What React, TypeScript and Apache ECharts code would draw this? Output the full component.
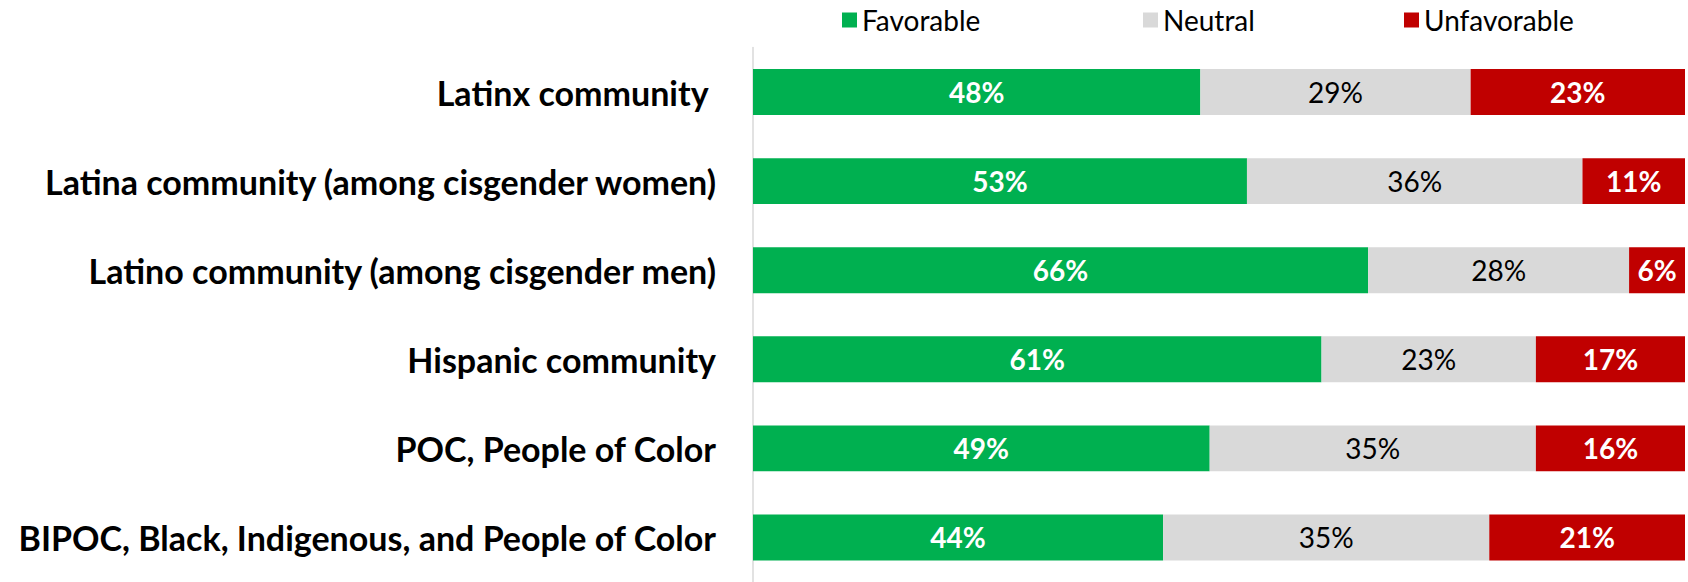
import React, { useEffect, useRef } from "react";
import * as echarts from "echarts";

const categories = [
  "Latinx community ",
  "Latina community (among cisgender women)",
  "Latino community (among cisgender men)",
  "Hispanic community",
  "POC, People of Color",
  "BIPOC, Black, Indigenous, and People of Color",
];
const favorable = [48, 53, 66, 61, 49, 44];
const neutral = [29, 36, 28, 23, 35, 35];
const unfavorable = [23, 11, 6, 17, 16, 21];

const FONT = "Lato, 'Open Sans', sans-serif";

export default function App() {
  const ref = useRef<HTMLDivElement>(null);
  useEffect(() => {
    if (!ref.current) return;
    const chart = echarts.init(ref.current, null, { renderer: "svg" });
    const labelFmt = (p: any) => `${p.value}%`;
    const mk = (name: string, data: number[], color: string, labelColor: string, bold: boolean) => ({
      name,
      type: "bar",
      stack: "total",
      data,
      barCategoryGap: "48.5%",
      clip: true,
      itemStyle: { color },
      label: {
        show: true,
        position: "inside",
        formatter: labelFmt,
        color: labelColor,
        fontFamily: FONT,
        fontSize: 28,
        fontWeight: bold ? "bold" : "normal",
      },
    });
    const legendCommon = {
      top: 1,
      itemWidth: 15,
      itemHeight: 15,
      itemGap: 6,
      icon: "rect",
      textStyle: { fontFamily: FONT, fontSize: 28, color: "#000", padding: [0, 0, 0, 0] },
    };
    chart.setOption({
      animation: false,
      backgroundColor: "#fff",
      legend: [
        { ...legendCommon, left: 837, data: ["Favorable"] },
        { ...legendCommon, left: 1138, data: ["Neutral"] },
        { ...legendCommon, left: 1399, data: ["Unfavorable"] },
      ],
      grid: { left: 753, right: 3, top: 47.5, height: 541 },
      xAxis: {
        type: "value",
        min: 0,
        max: 100,
        show: false,
      },
      yAxis: {
        type: "category",
        inverse: true,
        data: categories,
        axisLine: { show: true, lineStyle: { color: "#D9D9D9", width: 1.5 } },
        axisTick: { show: false },
        axisLabel: {
          margin: 37,
          color: "#000",
          fontFamily: FONT,
          fontSize: 34,
          fontWeight: "bold",
        },
      },
      series: [
        mk("Favorable", favorable, "#00B050", "#fff", true),
        mk("Neutral", neutral, "#D9D9D9", "#000", false),
        mk("Unfavorable", unfavorable, "#C00000", "#fff", true),
      ],
    });
    return () => chart.dispose();
  }, []);
  return (
    <div
      ref={ref}
      style={{ position: "fixed", left: 0, top: 0, width: 1688, height: 582 }}
    />
  );
}
